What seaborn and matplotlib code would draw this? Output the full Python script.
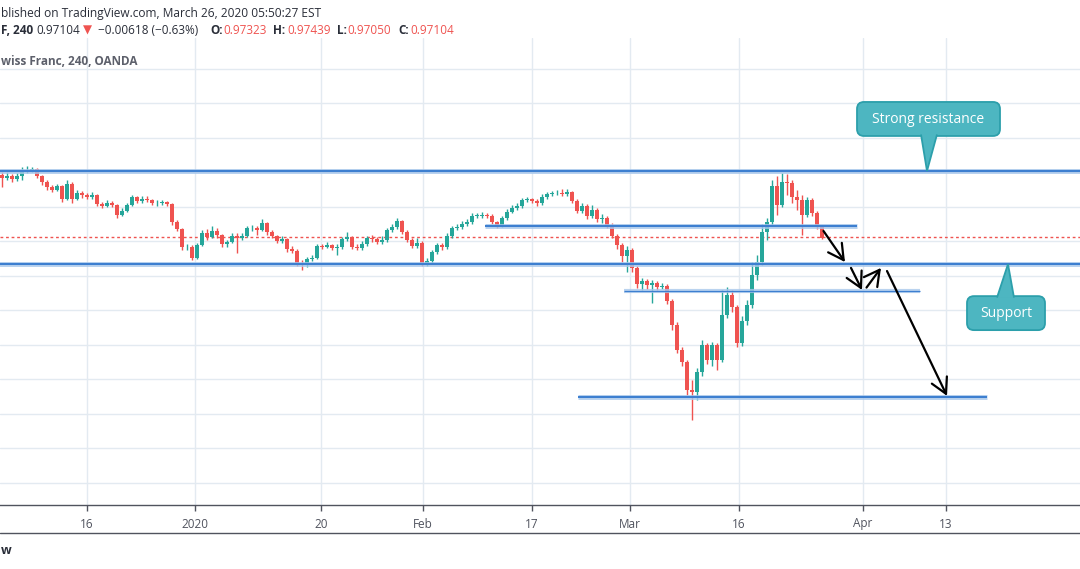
import numpy as np
import pandas as pd
import matplotlib.pyplot as plt
import seaborn as sns
from matplotlib.patches import FancyBboxPatch, Polygon

# USD/CHF candles (one candle per two 4h bars)
first_open = 0.9891
close = [0.9883, 0.9889, 0.9880, 0.9889, 0.9900, 0.9906, 0.9909, 0.9889, 0.9871, 0.9857,
         0.9848, 0.9860, 0.9822, 0.9865, 0.9822, 0.9839, 0.9833, 0.9828, 0.9833, 0.9807,
         0.9802, 0.9810, 0.9804, 0.9775, 0.9787, 0.9804, 0.9828, 0.9816, 0.9822, 0.9819,
         0.9810, 0.9810, 0.9813, 0.9807, 0.9755, 0.9735, 0.9683, 0.9683, 0.9651, 0.9688,
         0.9723, 0.9712, 0.9729, 0.9717, 0.9691, 0.9697, 0.9715, 0.9709, 0.9715, 0.9738,
         0.9738, 0.9732, 0.9752, 0.9726, 0.9715, 0.9700, 0.9706, 0.9677, 0.9671, 0.9636,
         0.9630, 0.9648, 0.9651, 0.9686, 0.9683, 0.9688, 0.9680, 0.9683, 0.9706, 0.9712,
         0.9683, 0.9680, 0.9691, 0.9709, 0.9706, 0.9697, 0.9703, 0.9732, 0.9741, 0.9758,
         0.9726, 0.9703, 0.9686, 0.9694, 0.9636, 0.9642, 0.9668, 0.9688, 0.9683, 0.9715,
         0.9738, 0.9741, 0.9749, 0.9755, 0.9773, 0.9773, 0.9775, 0.9773, 0.9755, 0.9746,
         0.9767, 0.9784, 0.9796, 0.9802, 0.9819, 0.9822, 0.9816, 0.9810, 0.9828, 0.9836,
         0.9839, 0.9839, 0.9836, 0.9842, 0.9816, 0.9787, 0.9802, 0.9773, 0.9790, 0.9764,
         0.9767, 0.9746, 0.9715, 0.9688, 0.9657, 0.9674, 0.9622, 0.9575, 0.9584, 0.9572,
         0.9578, 0.9567, 0.9570, 0.9526, 0.9456, 0.9384, 0.9349, 0.9268, 0.9262, 0.9320,
         0.9398, 0.9355, 0.9398, 0.9355, 0.9485, 0.9543, 0.9509, 0.9404, 0.9468, 0.9514,
         0.9601, 0.9639, 0.9726, 0.9755, 0.9860, 0.9804, 0.9871, 0.9868, 0.9828, 0.9819,
         0.9775, 0.9819, 0.9781, 0.9746, 0.9710]
high = [0.9900, 0.9900, 0.9894, 0.9897, 0.9915, 0.9918, 0.9915, 0.9912, 0.9891, 0.9877,
        0.9862, 0.9865, 0.9862, 0.9877, 0.9871, 0.9848, 0.9845, 0.9839, 0.9842, 0.9836,
        0.9813, 0.9819, 0.9816, 0.9807, 0.9796, 0.9810, 0.9833, 0.9831, 0.9831, 0.9831,
        0.9822, 0.9819, 0.9819, 0.9816, 0.9810, 0.9761, 0.9738, 0.9691, 0.9688, 0.9694,
        0.9732, 0.9735, 0.9744, 0.9738, 0.9720, 0.9703, 0.9723, 0.9723, 0.9723, 0.9744,
        0.9746, 0.9744, 0.9764, 0.9755, 0.9732, 0.9717, 0.9715, 0.9709, 0.9686, 0.9677,
        0.9645, 0.9654, 0.9659, 0.9691, 0.9691, 0.9697, 0.9691, 0.9691, 0.9712, 0.9726,
        0.9715, 0.9691, 0.9700, 0.9715, 0.9717, 0.9712, 0.9715, 0.9738, 0.9749, 0.9767,
        0.9761, 0.9732, 0.9709, 0.9709, 0.9700, 0.9651, 0.9674, 0.9694, 0.9694, 0.9723,
        0.9744, 0.9749, 0.9758, 0.9764, 0.9781, 0.9781, 0.9784, 0.9781, 0.9778, 0.9758,
        0.9773, 0.9793, 0.9804, 0.9810, 0.9825, 0.9828, 0.9825, 0.9822, 0.9836, 0.9842,
        0.9845, 0.9848, 0.9851, 0.9851, 0.9845, 0.9822, 0.9810, 0.9807, 0.9804, 0.9796,
        0.9778, 0.9773, 0.9752, 0.9720, 0.9694, 0.9686, 0.9680, 0.9628, 0.9593, 0.9590,
        0.9587, 0.9584, 0.9578, 0.9575, 0.9532, 0.9465, 0.9393, 0.9355, 0.9297, 0.9332,
        0.9413, 0.9404, 0.9407, 0.9404, 0.9558, 0.9567, 0.9558, 0.9514, 0.9483, 0.9529,
        0.9639, 0.9659, 0.9749, 0.9767, 0.9877, 0.9889, 0.9897, 0.9894, 0.9877, 0.9848,
        0.9833, 0.9828, 0.9825, 0.9787, 0.9744]
low = [0.9857, 0.9877, 0.9871, 0.9874, 0.9877, 0.9897, 0.9900, 0.9883, 0.9862, 0.9848,
       0.9842, 0.9845, 0.9813, 0.9819, 0.9810, 0.9819, 0.9825, 0.9822, 0.9822, 0.9802,
       0.9796, 0.9799, 0.9799, 0.9767, 0.9773, 0.9784, 0.9802, 0.9810, 0.9810, 0.9813,
       0.9804, 0.9802, 0.9804, 0.9802, 0.9746, 0.9729, 0.9674, 0.9674, 0.9645, 0.9648,
       0.9686, 0.9703, 0.9709, 0.9709, 0.9683, 0.9683, 0.9694, 0.9665, 0.9703, 0.9712,
       0.9729, 0.9717, 0.9729, 0.9717, 0.9709, 0.9694, 0.9694, 0.9668, 0.9665, 0.9628,
       0.9616, 0.9625, 0.9642, 0.9648, 0.9677, 0.9680, 0.9674, 0.9659, 0.9677, 0.9700,
       0.9677, 0.9674, 0.9674, 0.9686, 0.9697, 0.9691, 0.9691, 0.9697, 0.9726, 0.9735,
       0.9720, 0.9697, 0.9680, 0.9680, 0.9628, 0.9628, 0.9636, 0.9662, 0.9674, 0.9677,
       0.9709, 0.9732, 0.9735, 0.9744, 0.9749, 0.9767, 0.9767, 0.9767, 0.9749, 0.9738,
       0.9741, 0.9761, 0.9781, 0.9790, 0.9796, 0.9813, 0.9810, 0.9802, 0.9804, 0.9822,
       0.9831, 0.9833, 0.9831, 0.9831, 0.9810, 0.9781, 0.9781, 0.9764, 0.9767, 0.9755,
       0.9752, 0.9738, 0.9709, 0.9677, 0.9639, 0.9610, 0.9610, 0.9564, 0.9558, 0.9561,
       0.9520, 0.9558, 0.9561, 0.9517, 0.9442, 0.9375, 0.9338, 0.9253, 0.9181, 0.9239,
       0.9309, 0.9343, 0.9338, 0.9326, 0.9349, 0.9477, 0.9494, 0.9393, 0.9395, 0.9456,
       0.9506, 0.9587, 0.9630, 0.9703, 0.9746, 0.9775, 0.9799, 0.9833, 0.9810, 0.9790,
       0.9717, 0.9770, 0.9773, 0.9735, 0.9705]

last_price = 0.97104

# time axis (bar index positions of the date labels)
tick_pos = [17.0, 38.6, 63.8, 84.2, 106.0, 125.6, 147.4, 172.2, 188.8]
tick_labels = ['16', '2020', '20', 'Feb', '17', 'Mar', '16', 'Apr', '13']
price_grid = [0.90, 0.91, 0.92, 0.93, 0.94, 0.95, 0.96, 0.97, 0.98, 0.99, 1.00, 1.01, 1.02]

# drawn levels: (price, start bar, end bar)
resistance = 0.9903
support = 0.9633
mid_level = (0.9744, 96.6, 171.0)
thin_level = (0.9554, 124.4, 183.6)
target_level = (0.9248, 115.2, 197.0)

UP, DOWN = '#26a69a', '#ef5350'
BLUE, HALO = '#3d7fd0', '#a9c8ec'
TXT = '#50535e'

df = pd.DataFrame({'high': high, 'low': low, 'close': close})
df['open'] = [first_open] + close[:-1]
df['bar'] = np.arange(len(df))

sns.set_theme(style='white')
plt.rcParams['font.family'] = ['Open Sans', 'DejaVu Sans']

W, H = 1080, 569
fig = plt.figure(figsize=(W / 100, H / 100), dpi=100)
fig.patch.set_facecolor('white')
ax = fig.add_axes([0, (H - 505) / H, 1, (505 - 38) / H])
ax.set_xlim(-0.4, 215.6)
ax.set_ylim(0.97 - 264 / 3450, 0.97 + 203 / 3450)

ax.set_xticks(tick_pos)
ax.set_xticklabels(tick_labels)
ax.set_yticks(price_grid)
ax.grid(True, color='#e3eaf1', lw=1)
ax.tick_params(axis='y', left=False, labelleft=False)
ax.tick_params(axis='x', bottom=True, length=4, width=1, color=TXT, pad=5,
               labelsize=8.5, labelcolor=TXT)
sns.despine(ax=ax, left=True, top=True, right=True)
ax.spines['bottom'].set_color(TXT)
ax.spines['bottom'].set_linewidth(1)

# candles
up = df['close'] >= df['open']
colors = np.where(up, UP, DOWN)
body_lo = df[['open', 'close']].min(axis=1)
body_h = (df['close'] - df['open']).abs().clip(lower=0.0001)
ax.vlines(df['bar'], df['low'], df['high'], colors=colors, lw=1, zorder=3)
ax.bar(df['bar'], body_h, bottom=body_lo, width=0.85, color=colors, linewidth=0, zorder=3)

# horizontal levels
for lvl in (resistance, support):
    ax.axhline(lvl, color=HALO, lw=3.6, alpha=0.8, zorder=4)
    ax.axhline(lvl, color=BLUE, lw=1.5, zorder=4)
for (lvl, x0, x1), lw in ((mid_level, 1.5), (target_level, 1.5), (thin_level, 0.9)):
    ax.plot([x0, x1], [lvl, lvl], color=HALO, lw=lw + 2.1, alpha=0.8, zorder=4,
            solid_capstyle='butt')
    ax.plot([x0, x1], [lvl, lvl], color=BLUE, lw=lw, zorder=4, solid_capstyle='butt')
ax.axhline(last_price, color=DOWN, lw=1, ls=(0, (2, 2)), zorder=2)

# projected path arrows
arrow_kw = dict(arrowstyle='->,head_length=0.55,head_width=0.3', color='black', lw=1.6,
                mutation_scale=20, shrinkA=0, shrinkB=0)
path = [((164.3, 0.9729), (168.6, 0.9639)),
        ((169.8, 0.9622), (172.0, 0.9558)),
        ((172.9, 0.9565), (175.8, 0.9622)),
        ((177.0, 0.9613), (189.0, 0.9251))]
for start, end in path:
    ax.annotate('', xy=end, xytext=start, arrowprops=arrow_kw, zorder=6)

# overlay in pixel units for callouts and header
ov = fig.add_axes([0, 0, 1, 1], zorder=5)
ov.set_xlim(0, W)
ov.set_ylim(H, 0)
ov.axis('off')
ov.patch.set_alpha(0)


def to_px(x, y):
    return ov.transData.inverted().transform(ax.transData.transform((x, y)))


def callout(tip, text, left, top, w, h, b0, b1, below):
    tx, ty = tip
    box = FancyBboxPatch((tx + left, ty + top), w, h,
                         boxstyle='round,pad=0,rounding_size=7',
                         fc='#4db6c1', ec='#2c9fab', lw=1.3, zorder=7)
    ov.add_patch(box)
    by = ty + top + (1.5 if not below else h - 1.5)
    tri = Polygon([(tx + b0, by), (tx, ty), (tx + b1, by)], closed=False,
                  fc='#4db6c1', ec='#2c9fab', lw=1.3, zorder=8)
    ov.add_patch(tri)
    ov.text(tx + left + w / 2, ty + top + h / 2 + 0.5, text, color='white',
            fontsize=10, ha='center', va='center', zorder=9)


fig.canvas.draw()
callout(to_px(185.0, resistance), 'Strong resistance', -70, -69, 143, 34, -6, 10, True)
callout(to_px(201.2, support), 'Support', -41, 32, 78, 34, -11, 6, False)

# header (the screenshot is cropped on the left, so only the visible part is shown)
dark = '#2a2e39'
ov.text(1, 13, 'blished on TradingView.com, March 26, 2020 05:50:27 EST',
        ha='left', va='center', fontsize=8.6, color=dark)
ov.text(1, 30, 'F, 240', ha='left', va='center', fontsize=8.5,
        fontweight='bold', color=dark)
pieces = [(36, '0.97104', dark, 'normal'), (83, '▼', DOWN, 'normal'),
          (98, '\u22120.00618 (\u22120.63%)', dark, 'normal'),
          (210, 'O:', dark, 'bold'), (223, '0.97323', DOWN, 'normal'),
          (273, 'H:', dark, 'bold'), (287, '0.97439', DOWN, 'normal'),
          (337, 'L:', dark, 'bold'), (347, '0.97050', DOWN, 'normal'),
          (398, 'C:', dark, 'bold'), (410, '0.97104', DOWN, 'normal')]
for x, s, c, wgt in pieces:
    ov.text(x, 30, s, ha='left', va='center', fontsize=8.5, color=c, fontweight=wgt)
ov.text(1, 61, 'wiss Franc, 240, OANDA', ha='left', va='center',
        fontsize=8.5, fontweight='bold', color='#5d606b')
ov.plot([0, W], [533, 533], color=TXT, lw=1)
ov.text(1, 550, 'w', ha='left', va='center', fontsize=9,
        fontweight='bold', color=dark)

fig.savefig('out.png', dpi=100)
